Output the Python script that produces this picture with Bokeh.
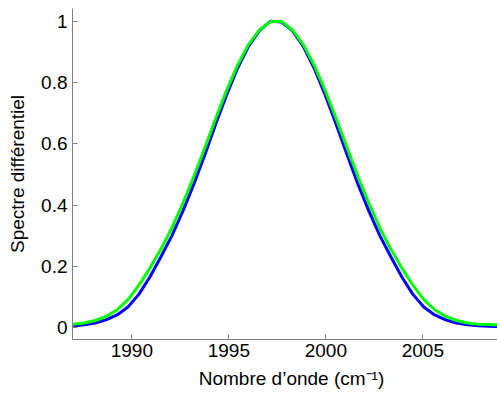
from bokeh.plotting import figure
from bokeh.models import FixedTicker, Range1d
from bokeh.embed import file_html
from bokeh.resources import INLINE

# Wavenumber grid (cm^-1)
wavenumber = [1986.98, 1987.55, 1988.11, 1988.67, 1989.24, 1989.80, 1990.37, 1990.93,
              1991.50, 1992.06, 1992.63, 1993.19, 1993.76, 1994.32, 1994.88, 1995.45,
              1996.01, 1996.58, 1997.14, 1997.71, 1998.27, 1998.84, 1999.40, 1999.97,
              2000.53, 2001.10, 2001.66, 2002.22, 2002.79, 2003.35, 2003.92, 2004.48,
              2005.05, 2005.61, 2006.18, 2006.74, 2007.31, 2007.87, 2008.43, 2009.00]

# Blue curve
spectre_bleu = [0.006, 0.010, 0.016, 0.026, 0.042, 0.068, 0.110, 0.166,
                0.232, 0.300, 0.381, 0.468, 0.564, 0.664, 0.759, 0.847,
                0.918, 0.970, 1.000, 0.998, 0.970, 0.918, 0.847, 0.759,
                0.664, 0.564, 0.468, 0.381, 0.300, 0.232, 0.166, 0.110,
                0.068, 0.042, 0.026, 0.016, 0.010, 0.007, 0.005, 0.004]

# Green curve
spectre_vert = [0.012, 0.016, 0.024, 0.037, 0.059, 0.092, 0.140, 0.195,
                0.257, 0.326, 0.406, 0.493, 0.587, 0.683, 0.774, 0.857,
                0.924, 0.972, 0.999, 1.000, 0.972, 0.924, 0.857, 0.774,
                0.683, 0.587, 0.493, 0.406, 0.326, 0.257, 0.195, 0.140,
                0.092, 0.059, 0.037, 0.024, 0.016, 0.012, 0.011, 0.009]

x_ticks = [1990, 1995, 2000, 2005]
y_ticks = [0, 0.2, 0.4, 0.6, 0.8, 1]
y_tick_labels = ["0", "0.2", "0.4", "0.6", "0.8", "1"]

FONT = "Liberation Sans"

p = figure(width=510, height=394, output_backend="svg", toolbar_location=None,
           x_range=Range1d(1986.94, 2009.52), y_range=Range1d(-0.038, 1.042),
           min_border_left=72, min_border_right=0, min_border_top=8,
           min_border_bottom=55)

p.line(wavenumber, spectre_bleu, line_color="#0000ff", line_width=3)
p.line(wavenumber, spectre_vert, line_color="#00ff00", line_width=3)

p.outline_line_color = None
p.xgrid.visible = False
p.ygrid.visible = False
p.background_fill_color = "white"
p.border_fill_color = "white"

for ax in (p.xaxis[0], p.yaxis[0]):
    ax.axis_line_color = "#808080"
    ax.axis_line_width = 1
    ax.major_tick_line_color = "#808080"
    ax.major_tick_in = 5
    ax.major_tick_out = 0
    ax.minor_tick_line_color = None
    ax.major_label_text_font = FONT
    ax.major_label_text_font_size = "19px"
    ax.major_label_text_color = "black"
    ax.axis_label_text_font = FONT
    ax.axis_label_text_font_size = "19px"
    ax.axis_label_text_font_style = "normal"
    ax.axis_label_text_color = "black"

p.xaxis.ticker = FixedTicker(ticks=x_ticks)
p.yaxis.ticker = FixedTicker(ticks=y_ticks)
p.yaxis.major_label_overrides = {t: s for t, s in zip(y_ticks, y_tick_labels)}

p.xaxis.axis_label = "Nombre d’onde (cm⁻¹)"
p.yaxis.axis_label = "Spectre différentiel"
p.xaxis.major_label_standoff = 4
p.yaxis.major_label_standoff = 5
p.xaxis.axis_label_standoff = 8
p.yaxis.axis_label_standoff = 10

open("out.html", "w").write(file_html(p, INLINE))
